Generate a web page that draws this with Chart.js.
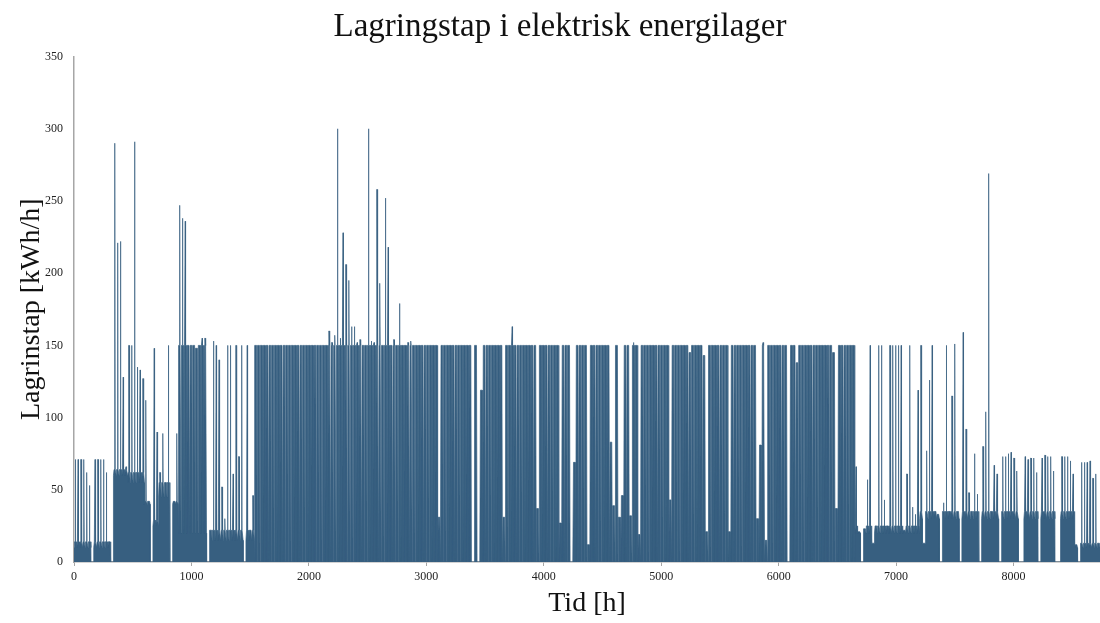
<!DOCTYPE html>
<html>
<head>
<meta charset="utf-8">
<script src="https://cdn.jsdelivr.net/npm/chart.js@4/dist/chart.umd.min.js"></script>
<style>
  html, body { margin: 0; padding: 0; background: #fff; overflow: hidden; }
  #wrap { width: 1100px; height: 623px; }
</style>
</head>
<body>
<div id="wrap"><canvas id="lossChart" width="1100" height="623"></canvas></div>
<script>
// Daglig toppverdi for lagringstap (kWh/h), lest av figuren, dag 0..364
const dayPeak = [
    71, 71, 71, 71, 62, 53, 0, 71, 71, 71,          // 0
    71, 62, 14, 0, 290, 221, 222, 128, 66, 150,     // 10
    150, 291, 135, 133, 127, 112, 42, 0, 148, 90,   // 20
    62, 89, 55, 150, 0, 42, 89, 247, 238, 236,      // 30
    150, 150, 150, 148, 150, 155, 155, 0, 22, 153,  // 40
    150, 140, 52, 30, 150, 150, 61, 150, 73, 150,   // 50
    0, 150, 22, 46, 150, 150, 150, 150, 150, 150,   // 60
    150, 150, 150, 150, 150, 150, 150, 150, 150, 150, // 70
    150, 150, 150, 150, 150, 150, 150, 150, 150, 150, // 80
    160, 152, 157, 300, 155, 228, 206, 195, 163, 163, // 90
    152, 154, 150, 150, 300, 153, 152, 258, 193, 150, // 100
    252, 218, 150, 154, 150, 179, 150, 150, 152, 153, // 110
    150, 150, 150, 150, 150, 150, 150, 150, 150, 31,  // 120
    150, 150, 150, 150, 150, 150, 150, 150, 150, 150, // 130
    150, 0, 150, 0, 119, 150, 150, 150, 150, 150,     // 140
    150, 150, 31, 150, 150, 163, 150, 150, 150, 150,  // 150
    150, 150, 150, 150, 37, 150, 150, 150, 150, 150,  // 160
    150, 150, 27, 150, 150, 150, 0, 69, 150, 150,     // 170
    150, 150, 12, 150, 150, 150, 150, 150, 150, 150,  // 180
    83, 39, 150, 31, 46, 150, 150, 32, 152, 150,      // 190
    19, 150, 150, 150, 150, 150, 150, 150, 150, 150,  // 200
    150, 43, 150, 150, 150, 150, 150, 150, 145, 150,  // 210
    150, 150, 150, 143, 21, 150, 150, 150, 150, 150,  // 220
    150, 150, 21, 150, 150, 150, 150, 150, 150, 150,  // 230
    150, 150, 30, 81, 152, 15, 150, 150, 150, 150,    // 240
    150, 150, 150, 0, 150, 150, 138, 150, 150, 150,   // 250
    150, 150, 150, 150, 150, 150, 150, 150, 150, 145, // 260
    37, 150, 150, 150, 150, 150, 150, 66, 21, 0,      // 270
    23, 57, 150, 13, 25, 150, 150, 43, 25, 150,       // 280
    150, 150, 150, 150, 22, 61, 150, 38, 33, 119,     // 290
    150, 13, 77, 126, 150, 35, 33, 0, 41, 150,        // 300
    35, 115, 151, 35, 0, 159, 92, 48, 35, 75,         // 310
    47, 0, 80, 104, 269, 35, 67, 61, 0, 73,           // 320
    73, 75, 76, 72, 63, 0, 0, 73, 71, 72,             // 330
    72, 62, 0, 72, 74, 73, 73, 63, 0, 0,              // 340
    73, 73, 73, 70, 61, 12, 0, 69, 69, 69,            // 350
    70, 58, 61, 13, 13                                // 360
];

// Perioder med "grunnivaa" (tett fylt del) og bunnivaa mellom dogn
const segStartDay = [0, 14, 19, 25, 28, 30, 35, 37, 48, 64, 277, 300, 355];
const segBody     = [14, 64, 62, 42, 29, 55, 42, 150, 22, 150, 25, 35, 13];
const segFloor    = [10, 60, 55, 40, 25, 45, 40, 20, 15, 0, 20, 30, 10];

// Akseinndeling
const xTickValues = [0, 1000, 2000, 3000, 4000, 5000, 6000, 7000, 8000];
const yTickValues = [0, 50, 100, 150, 200, 250, 300, 350];
const hoursInYear = 8736;

function segmentFor(day) {
    let i = 0;
    while (i + 1 < segStartDay.length && segStartDay[i + 1] <= day) i++;
    return i;
}

// Bygg timeserie fra dognverdiene
function buildSeries() {
    const pts = [];
    dayPeak.forEach((peak, d) => {
        const h = d * 24;
        if (peak === 0) {
            pts.push({ x: h + 1, y: 0 }, { x: h + 23, y: 0 });
            return;
        }
        const s = segmentFor(d);
        const body = Math.min(peak, segBody[s]);
        const floor = Math.min(segFloor[s], body);
        pts.push({ x: h, y: floor }, { x: h + 5, y: body });
        if (peak > body) {
            pts.push({ x: h + 9, y: body }, { x: h + 11, y: peak },
                     { x: h + 13, y: peak }, { x: h + 15, y: body });
        }
        pts.push({ x: h + 19, y: body }, { x: h + 24, y: floor });
    });
    return pts;
}

const serif = "'Liberation Serif', 'Times New Roman', serif";
const lineColor = '#375f80';

new Chart(document.getElementById('lossChart').getContext('2d'), {
    type: 'line',
    data: {
        datasets: [{
            label: 'Lagringstap',
            data: buildSeries(),
            borderColor: lineColor,
            backgroundColor: lineColor,
            borderWidth: 0.7,
            fill: 'origin',
            pointRadius: 0,
            tension: 0
        }]
    },
    options: {
        responsive: false,
        animation: false,
        parsing: false,
        normalized: true,
        layout: { padding: { left: 20, right: 0, top: 0, bottom: 0 } },
        plugins: {
            legend: { display: false },
            tooltip: { enabled: false },
            title: {
                display: true,
                text: 'Lagringstap i elektrisk energilager',
                color: '#111',
                font: { family: serif, size: 33, weight: 'normal' },
                padding: { top: 8, bottom: 9 }
            }
        },
        scales: {
            x: {
                type: 'linear',
                min: 0,
                max: hoursInYear,
                afterFit: s => { s.height = 61; },
                afterBuildTicks: s => { s.ticks = xTickValues.map(v => ({ value: v })); },
                ticks: {
                    autoSkip: false,
                    color: '#222',
                    font: { family: serif, size: 12 },
                    padding: 4,
                    maxRotation: 0,
                    callback: v => String(v)
                },
                grid: { drawOnChartArea: false, drawTicks: true, tickLength: 4, color: '#a6a6a6' },
                border: { color: '#a6a6a6', width: 1.5 },
                title: {
                    display: true,
                    text: 'Tid [h]',
                    color: '#111',
                    font: { family: serif, size: 28 },
                    padding: { top: 0, bottom: 3 }
                }
            },
            y: {
                min: 0,
                max: 350,
                afterFit: s => { s.width = 54; },
                afterBuildTicks: s => { s.ticks = yTickValues.map(v => ({ value: v })); },
                ticks: {
                    color: '#222',
                    font: { family: serif, size: 12 },
                    padding: 11,
                    callback: v => String(v)
                },
                grid: { drawOnChartArea: false, drawTicks: false },
                border: { color: '#a6a6a6', width: 1.5 },
                title: {
                    display: true,
                    text: 'Lagrinstap [kWh/h]',
                    color: '#111',
                    font: { family: serif, size: 28 },
                    padding: { top: -5, bottom: 0 }
                }
            }
        }
    }
});
</script>
</body>
</html>
